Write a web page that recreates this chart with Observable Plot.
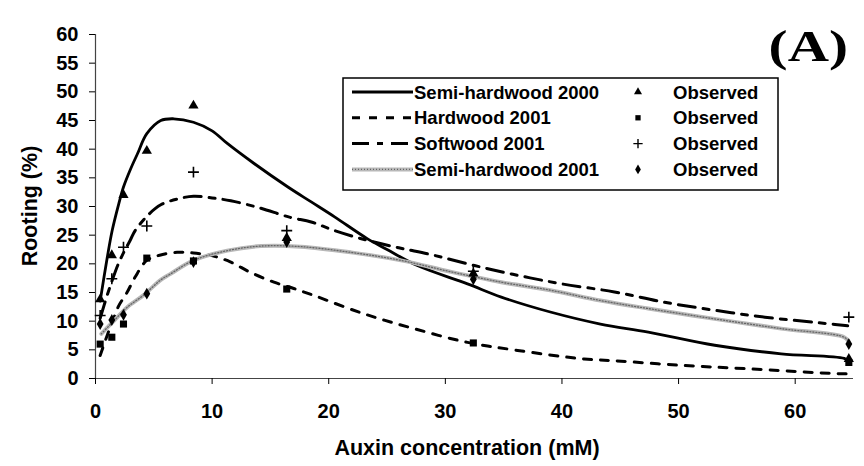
<!DOCTYPE html>
<html>
<head>
<meta charset="utf-8">
<script src="https://cdn.jsdelivr.net/npm/d3@7"></script>
<script src="https://cdn.jsdelivr.net/npm/@observablehq/plot@0.6"></script>
<style>
  html, body { margin: 0; padding: 0; background: white; }
</style>
</head>
<body>
<div id="chart"></div>
<script>
// ---------- data ----------
const seriesNames = ["Semi-hardwood 2000", "Hardwood 2001", "Softwood 2001", "Semi-hardwood 2001"];
const xTicks = [0, 10, 20, 30, 40, 50, 60];
const yTicks = [0, 5, 10, 15, 20, 25, 30, 35, 40, 45, 50, 55, 60];

// fitted curves
const semi2000X = [0.4, 1, 1.43, 2, 2.4, 3, 3.6, 4.4, 5.6, 6.7, 8.4, 10, 11.3, 13.6, 16.5, 18.5, 20.5, 23.3, 25, 27.6, 31.9, 34.8, 39, 43.3, 47.4, 53.1, 58.8, 64.2, 64.6];
const semi2000Y = [13.5, 21, 25.8, 30.5, 33.4, 36.5, 39.2, 42.7, 45, 45.3, 44.7, 43.2, 41, 37.5, 33.4, 30.8, 28.2, 24.4, 22.5, 19.7, 16.5, 14.2, 11.6, 9.5, 8.1, 5.8, 4.3, 3.5, 3.0];

const hard2001X = [0.4, 1, 1.5, 2, 2.7, 3.4, 4.4, 5.5, 7, 8.4, 10.2, 11.6, 13.3, 15.3, 17, 18.7, 23, 27.3, 31.9, 36.2, 41.9, 44.5, 50.2, 55.9, 63, 64.5];
const hard2001Y = [4, 7.5, 10.2, 12.7, 15, 17.7, 20.6, 21.5, 22, 21.9, 21.3, 20.3, 18.5, 16.8, 15.7, 14.5, 11.3, 8.7, 6.3, 4.9, 3.4, 3.1, 2.3, 1.7, 0.9, 0.8];

const soft2001X = [0.4, 1, 1.5, 2, 2.5, 3, 3.4, 4.6, 5.6, 7, 8.4, 10, 11.6, 14, 16.7, 18.5, 20.5, 23.3, 26, 29, 32.5, 36.2, 40, 44.5, 48.8, 53.1, 57.4, 63.1, 64.5];
const soft2001Y = [10.5, 14.5, 17.5, 20.2, 22.3, 24.2, 25.8, 28.7, 30.3, 31.3, 31.8, 31.5, 31, 29.8, 28.1, 27.3, 25.8, 24.1, 22.8, 21.5, 19.7, 18, 16.5, 15.1, 13.3, 11.9, 10.7, 9.5, 9.2];

const semi2001X = [0.5, 1.6, 2.7, 4.1, 5.6, 6.4, 8.4, 11.3, 14.2, 17.6, 21.9, 26.2, 30.5, 34.8, 39, 43.3, 47.4, 53.1, 58.8, 64.2, 64.6];
const semi2001Y = [7.8, 10.1, 12.4, 14.5, 17.2, 18.2, 20.6, 22.3, 23.1, 23, 22, 20.6, 18.6, 16.8, 15.4, 13.6, 12.2, 10.4, 8.7, 7.2, 6.4];

// observed points
const obsX = [0.4, 1.4, 2.4, 4.4, 8.4, 16.4, 32.4, 64.6];
const semi2000Obs = [13.8, 21.5, 32, 39.7, 47.6, 24.5, 18.3, 3.4];
const hard2001Obs = [6.0, 7.2, 9.5, 21.0, 20.5, 15.6, 6.2, 2.8];
const soft2001Obs = [11, 17.4, 22.9, 26.6, 36, 25.8, 18.7, 10.7];
const semi2001Obs = [9.5, 10.2, 11.1, 14.8, 20.3, 23.8, 17.3, 6.0];

// ---------- build tables ----------
const toRows = (xs, ys) => xs.map((x, i) => ({x, y: ys[i]}));
const curves = [toRows(semi2000X, semi2000Y), toRows(hard2001X, hard2001Y), toRows(soft2001X, soft2001Y), toRows(semi2001X, semi2001Y)];
const observed = [semi2000Obs, hard2001Obs, soft2001Obs, semi2001Obs].map(ys => toRows(obsX, ys));

const FONT = "'Liberation Sans', Arial, Helvetica, sans-serif";
const lineStyles = [
  [{stroke: "black", strokeWidth: 2.8}],
  [{stroke: "black", strokeWidth: 3, strokeDasharray: "8,9"}],
  [{stroke: "black", strokeWidth: 3, strokeDasharray: "17,8,6,8"}],
  [{stroke: "#b8b8b8", strokeWidth: 4}, {stroke: "#666", strokeWidth: 1.3, strokeDasharray: "1,2"}]
];
const symbols = [
  {symbol: "triangle", fill: "black", r: 3.8},
  {symbol: "square", fill: "black", r: 4},
  {symbol: "plus", stroke: "black", strokeWidth: 1.6, r: 3.6},
  {symbol: "diamond", fill: "black", r: 3.6}
];

const marks = [
  Plot.ruleY([0], {stroke: "#444", strokeWidth: 1.2}),
  Plot.ruleX([0], {stroke: "#444", strokeWidth: 1.2}),
  Plot.axisY({ticks: yTicks, tickSize: 6, tickPadding: 11, label: null, fontSize: 20, fontWeight: "bold"}),
  Plot.axisX({ticks: xTicks, tickSize: 6, tickPadding: 19, label: null, fontSize: 20, fontWeight: "bold"})
];
curves.forEach((rows, i) => {
  lineStyles[i].forEach(st => marks.push(Plot.line(rows, {x: "x", y: "y", curve: "catmull-rom", ...st})));
});
observed.forEach((rows, i) => {
  marks.push(Plot.dot(rows, {x: "x", y: "y", ...symbols[i]}));
});

const chart = Plot.plot({
  width: 864,
  height: 466,
  marginLeft: 95,
  marginRight: 11,
  marginTop: 34,
  marginBottom: 88,
  style: {fontFamily: FONT, fontWeight: "bold", fontSize: "20px", background: "white", color: "black", overflow: "visible"},
  x: {domain: [0, 65]},
  y: {domain: [0, 60]},
  marks
});

// ---------- titles and legend box ----------
const svg = d3.select(chart);
const tg = svg.append("g").attr("font-family", FONT).attr("font-weight", "bold").attr("text-anchor", "middle");
tg.append("text").attr("x", 467).attr("y", 447).attr("dy", "0.36em").attr("font-size", 21.5).text("Auxin concentration (mM)");
tg.append("text").attr("transform", "translate(29,206) rotate(-90)").attr("dy", "0.36em").attr("font-size", 21.5).text("Rooting (%)");
tg.append("text").attr("transform", "translate(848,46) scale(1.3,1)").attr("dy", "0.34em").attr("text-anchor", "end")
  .attr("font-family", "'Liberation Serif', 'Times New Roman', serif").attr("font-size", 44)
  .text("(A)");

const lg = svg.append("g").attr("font-family", FONT).attr("font-weight", "bold").attr("font-size", 18.5).attr("text-anchor", "start");
lg.append("rect").attr("x", 343).attr("y", 78).attr("width", 435).attr("height", 112)
  .attr("fill", "white").attr("stroke", "black").attr("stroke-width", 1.5);
const legendSyms = [d3.symbolTriangle, d3.symbolSquare, d3.symbolPlus, d3.symbolDiamond];
seriesNames.forEach((name, i) => {
  const cy = 92 + i * 25.8;
  lineStyles[i].forEach(st => {
    lg.append("line").attr("x1", 352).attr("x2", 413).attr("y1", cy).attr("y2", cy)
      .attr("stroke", st.stroke).attr("stroke-width", st.strokeWidth)
      .attr("stroke-dasharray", st.strokeDasharray || null);
  });
  lg.append("text").attr("x", 414).attr("y", cy).attr("dy", "0.36em").text(name);
  const p = lg.append("path").attr("transform", `translate(638,${cy})`)
    .attr("d", d3.symbol(legendSyms[i], i === 2 ? 30 : 28)());
  if (i === 2) p.attr("fill", "none").attr("stroke", "black").attr("stroke-width", 1.4);
  else p.attr("fill", "black");
  lg.append("text").attr("x", 673).attr("y", cy).attr("dy", "0.36em").text("Observed");
});

document.getElementById("chart").appendChild(chart);
</script>
</body>
</html>
